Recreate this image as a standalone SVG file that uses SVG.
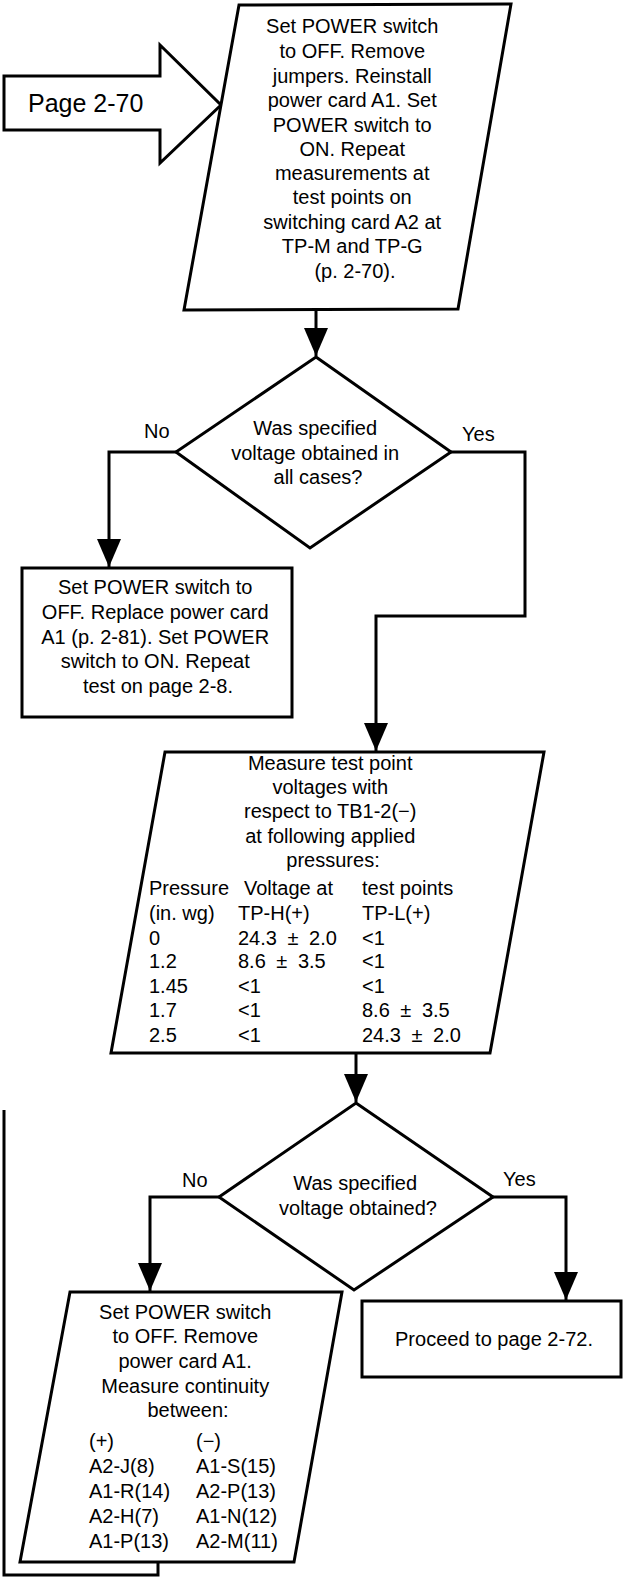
<svg xmlns="http://www.w3.org/2000/svg" width="624" height="1579" viewBox="0 0 624 1579">
<defs>
<style>
.shape{fill:#fff;stroke:#000;stroke-width:3;stroke-linejoin:miter}
.line{fill:none;stroke:#000;stroke-width:3}
.t{font-family:"Liberation Sans",Arial,sans-serif;font-size:20px;fill:#000}
.c{text-anchor:middle}
.pm{word-spacing:5px}
.lbl{font-family:"Liberation Sans",Arial,sans-serif;font-size:20px;fill:#000}
</style>
<marker id="ah" viewBox="0 0 28 24" refX="28" refY="12" markerWidth="28" markerHeight="24" markerUnits="userSpaceOnUse" orient="auto">
<path d="M0,0 L28,12 L0,24 z" fill="#000"/>
</marker>
</defs>
<rect width="624" height="1579" fill="#fff"/>

<g id="entry">
<polygon class="shape" points="4,76 160,76 160,45 221,105 160,163 160,130 4,130"/>
<text class="t" x="28" y="112" style="font-size:25px">Page 2-70</text>
</g>

<g id="step1">
<polygon class="shape" points="239,5 511,4 458,309 184,310"/>
<text class="t c" x="355">
<tspan x="355" y="33">Set POWER switch</tspan>
<tspan x="355" y="58">to OFF. Remove</tspan>
<tspan x="355" y="83">jumpers. Reinstall</tspan>
<tspan x="355" y="107">power card A1. Set</tspan>
<tspan x="355" y="132">POWER switch to</tspan>
<tspan x="355" y="156">ON. Repeat</tspan>
<tspan x="355" y="180">measurements at</tspan>
<tspan x="355" y="204">test points on</tspan>
<tspan x="355" y="229">switching card A2 at</tspan>
<tspan x="355" y="253">TP-M and TP-G</tspan>
<tspan x="355" y="278">(p. 2-70).</tspan>
</text>
</g>

<g id="decision1">
<polygon class="shape" points="316,357 451,452 310,548 176,452"/>
<text class="t c">
<tspan x="318" y="435">Was specified</tspan>
<tspan x="318" y="460">voltage obtained in</tspan>
<tspan x="318" y="484">all cases?</tspan>
</text>
</g>

<g id="replace">
<rect class="shape" x="22" y="568" width="270" height="149"/>
<text class="t c">
<tspan x="158" y="594">Set POWER switch to</tspan>
<tspan x="158" y="619">OFF. Replace power card</tspan>
<tspan x="158" y="644">A1 (p. 2-81). Set POWER</tspan>
<tspan x="158" y="668">switch to ON. Repeat</tspan>
<tspan x="158" y="693">test on page 2-8.</tspan>
</text>
</g>

<g id="measure">
<polygon class="shape" points="165,752 544,752 490,1053 111,1053"/>
<text class="t c">
<tspan x="333" y="770">Measure test point</tspan>
<tspan x="333" y="794">voltages with</tspan>
<tspan x="333" y="818">respect to TB1-2(−)</tspan>
<tspan x="333" y="843">at following applied</tspan>
<tspan x="333" y="867">pressures:</tspan>
</text>
<text class="t">
<tspan x="149" y="895">Pressure</tspan>
<tspan x="149" y="920">(in. wg)</tspan>
<tspan x="149" y="945">0</tspan>
<tspan x="149" y="968">1.2</tspan>
<tspan x="149" y="993">1.45</tspan>
<tspan x="149" y="1017">1.7</tspan>
<tspan x="149" y="1042">2.5</tspan>
</text>
<text class="t pm">
<tspan x="244" y="895" style="word-spacing:0">Voltage at</tspan>
<tspan x="238" y="920">TP-H(+)</tspan>
<tspan x="238" y="945">24.3 ± 2.0</tspan>
<tspan x="238" y="968">8.6 ± 3.5</tspan>
<tspan x="238" y="993">&lt;1</tspan>
<tspan x="238" y="1017">&lt;1</tspan>
<tspan x="238" y="1042">&lt;1</tspan>
</text>
<text class="t pm">
<tspan x="362" y="895" style="word-spacing:0">test points</tspan>
<tspan x="362" y="920">TP-L(+)</tspan>
<tspan x="362" y="945">&lt;1</tspan>
<tspan x="362" y="968">&lt;1</tspan>
<tspan x="362" y="993">&lt;1</tspan>
<tspan x="362" y="1017">8.6 ± 3.5</tspan>
<tspan x="362" y="1042">24.3 ± 2.0</tspan>
</text>
</g>

<g id="decision2">
<polygon class="shape" points="356,1103 493,1197 354,1290 219,1197"/>
<text class="t c">
<tspan x="358" y="1190">Was specified</tspan>
<tspan x="358" y="1215">voltage obtained?</tspan>
</text>
</g>

<g id="continuity">
<polygon class="shape" points="70,1292 342,1292 294,1562 20,1562"/>
<text class="t c">
<tspan x="188" y="1319">Set POWER switch</tspan>
<tspan x="188" y="1343">to OFF. Remove</tspan>
<tspan x="188" y="1368">power card A1.</tspan>
<tspan x="188" y="1393">Measure continuity</tspan>
<tspan x="188" y="1417">between:</tspan>
</text>
<text class="t">
<tspan x="89" y="1448">(+)</tspan>
<tspan x="89" y="1473">A2-J(8)</tspan>
<tspan x="89" y="1498">A1-R(14)</tspan>
<tspan x="89" y="1523">A2-H(7)</tspan>
<tspan x="89" y="1548">A1-P(13)</tspan>
</text>
<text class="t">
<tspan x="196" y="1448">(−)</tspan>
<tspan x="196" y="1473">A1-S(15)</tspan>
<tspan x="196" y="1498">A2-P(13)</tspan>
<tspan x="196" y="1523">A1-N(12)</tspan>
<tspan x="196" y="1548">A2-M(11)</tspan>
</text>
</g>

<g id="proceed">
<rect class="shape" x="362" y="1301" width="259" height="76"/>
<text class="t c" x="494" y="1346">Proceed to page 2-72.</text>
</g>

<g id="connectors">
<path class="line" d="M316,310 V356" marker-end="url(#ah)"/>
<path class="line" d="M176,452 H109 V567" marker-end="url(#ah)"/>
<path class="line" d="M451,452 H525 V616 H376 V751" marker-end="url(#ah)"/>
<path class="line" d="M356,1053 V1102" marker-end="url(#ah)"/>
<path class="line" d="M219,1197 H150 V1291" marker-end="url(#ah)"/>
<path class="line" d="M493,1197 H566 V1300" marker-end="url(#ah)"/>
<path class="line" d="M158,1562 V1575 H4 V1110"/>
<text class="lbl" x="144" y="438">No</text>
<text class="lbl" x="462" y="441">Yes</text>
<text class="lbl" x="182" y="1187">No</text>
<text class="lbl" x="503" y="1186">Yes</text>
</g>
</svg>
